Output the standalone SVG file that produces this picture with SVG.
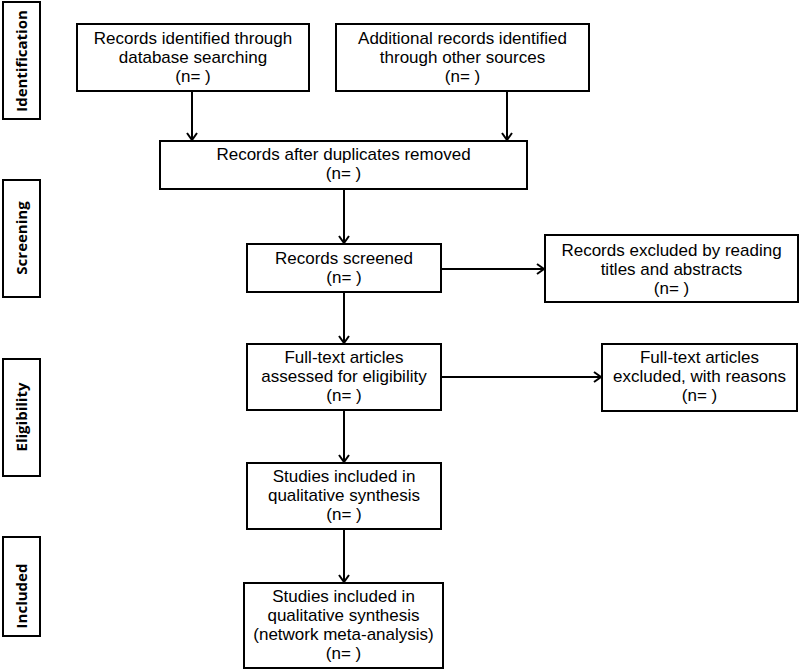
<svg xmlns="http://www.w3.org/2000/svg" width="799" height="670" viewBox="0 0 799 670">
<defs>
<marker id="arr" markerWidth="12" markerHeight="12" refX="10" refY="6" orient="auto" markerUnits="userSpaceOnUse">
<polyline points="3,1 10,6 3,11" fill="none" stroke="#000" stroke-width="2"/>
</marker>
<style>
rect{fill:#fff;stroke:#000;stroke-width:2}
text{font-family:"Liberation Sans",Arial,sans-serif;font-size:17px;fill:#000;text-anchor:middle}
.lab{font-family:"Open Sans","Noto Sans",sans-serif;font-weight:bold;font-size:15px}
.c{stroke:#000;stroke-width:2;fill:none;marker-end:url(#arr)}
</style>
</defs>
<rect width="799" height="670" style="fill:#fff;stroke:none"/>
<g id="stage-identification"><rect x="3" y="2" width="37" height="117"/><text class="lab" transform="translate(27,61) rotate(-90)">Identification</text></g>
<g id="stage-screening"><rect x="3" y="180" width="37" height="117"/><text class="lab" transform="translate(27,238) rotate(-90)">Screening</text></g>
<g id="stage-eligibility"><rect x="3" y="359" width="37" height="117"/><text class="lab" transform="translate(27,417) rotate(-90)">Eligibility</text></g>
<g id="stage-included"><rect x="3" y="537" width="37" height="99"/><text class="lab" transform="translate(27,596) rotate(-90)">Included</text></g>

<g id="connectors">
<line class="c" x1="192" y1="91" x2="192" y2="140"/>
<line class="c" x1="507" y1="91" x2="507" y2="140"/>
<line class="c" x1="344" y1="189" x2="344" y2="243"/>
<line class="c" x1="441" y1="269" x2="544" y2="269"/>
<line class="c" x1="344" y1="292" x2="344" y2="343"/>
<line class="c" x1="441" y1="377" x2="601" y2="377"/>
<line class="c" x1="344" y1="410" x2="344" y2="462"/>
<line class="c" x1="344" y1="529" x2="344" y2="582"/>
</g>

<g id="db-search"><rect x="77" y="24" width="232" height="67"/>
<text x="193" y="44">Records identified through</text><text x="193" y="63">database searching</text><text x="193" y="82">(n= )</text></g>
<g id="other-sources"><rect x="336" y="24" width="253" height="67"/>
<text x="462.5" y="44">Additional records identified</text><text x="462.5" y="63">through other sources</text><text x="462.5" y="82">(n= )</text></g>
<g id="duplicates"><rect x="160" y="141" width="367" height="48"/>
<text x="343.5" y="160">Records after duplicates removed</text><text x="343.5" y="179">(n= )</text></g>
<g id="screened"><rect x="247" y="244" width="194" height="48"/>
<text x="344" y="264">Records screened</text><text x="344" y="283">(n= )</text></g>
<g id="excluded-titles"><rect x="545" y="235" width="253" height="67"/>
<text x="671.5" y="256">Records excluded by reading</text><text x="671.5" y="275">titles and abstracts</text><text x="671.5" y="294">(n= )</text></g>
<g id="fulltext"><rect x="247" y="344" width="194" height="66"/>
<text x="344" y="363">Full-text articles</text><text x="344" y="382">assessed for eligibility</text><text x="344" y="401">(n= )</text></g>
<g id="excluded-reasons"><rect x="602" y="344" width="195" height="67"/>
<text x="699.5" y="363">Full-text articles</text><text x="699.5" y="382">excluded, with reasons</text><text x="699.5" y="401">(n= )</text></g>
<g id="qualitative"><rect x="247" y="463" width="194" height="66"/>
<text x="344" y="482">Studies included in</text><text x="344" y="501">qualitative synthesis</text><text x="344" y="520">(n= )</text></g>
<g id="network-meta"><rect x="244" y="583" width="199" height="85"/>
<text x="343.5" y="602">Studies included in</text><text x="343.5" y="621">qualitative synthesis</text><text x="343.5" y="640">(network meta-analysis)</text><text x="343.5" y="659">(n= )</text></g>
</svg>
